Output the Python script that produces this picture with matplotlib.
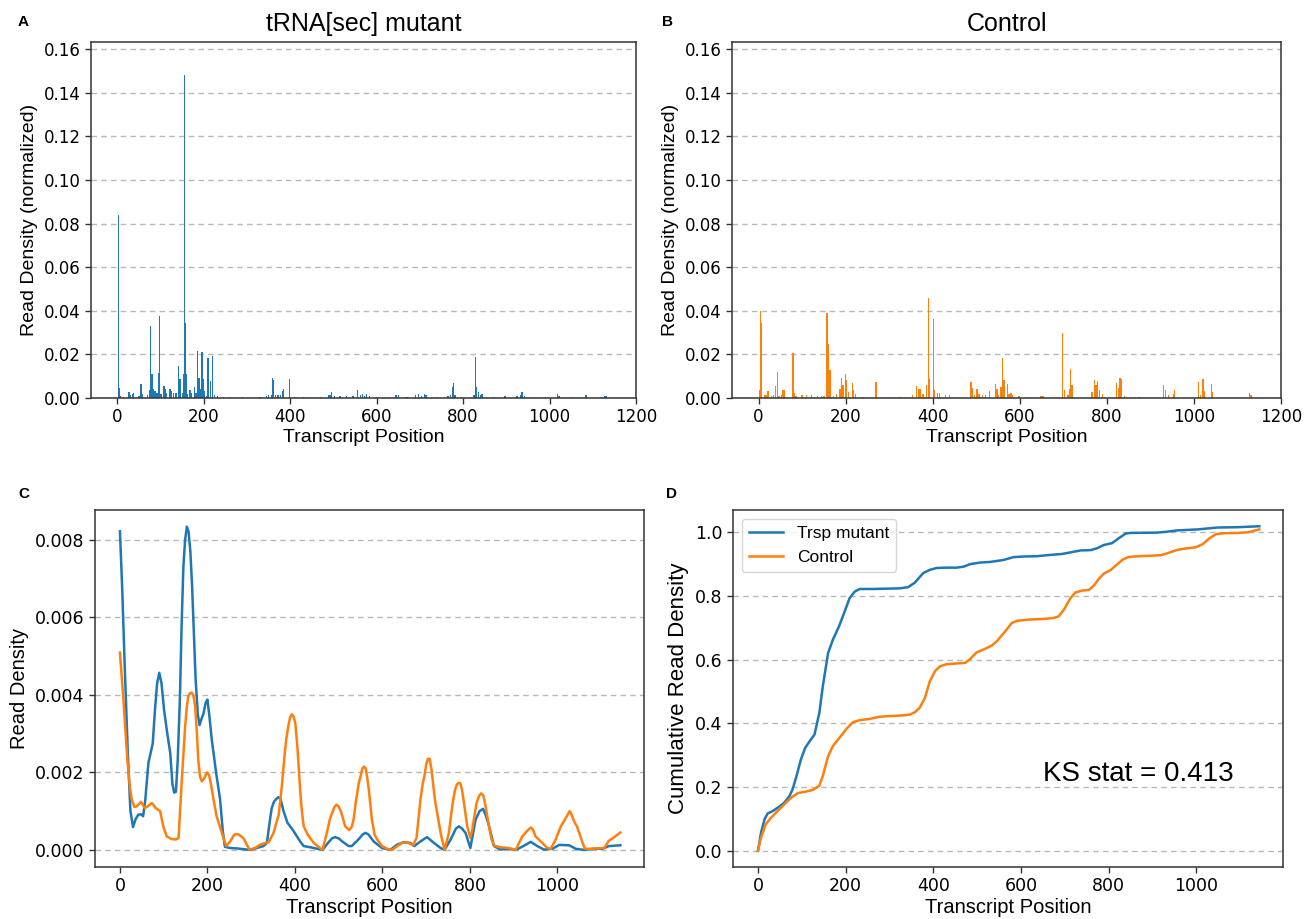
import matplotlib.pyplot as plt
from matplotlib.ticker import FormatStrFormatter

# Per-position read density (normalized) - tRNA[sec] mutant
mutant_pos = [2, 5, 8, 14, 27, 31, 35, 38, 50, 55, 58, 70, 74, 77, 80, 83, 87, 92, 95, 98,
              101, 108, 111, 114, 122, 126, 130, 136, 141, 145, 150, 153, 156, 158, 160, 163,
              168, 172, 178, 182, 186, 189, 192, 196, 198, 202, 206, 210, 215, 220, 224, 232,
              245, 260, 290, 330, 345, 350, 356, 359, 362, 366, 372, 378, 382, 385, 398, 410,
              430, 470, 488, 492, 496, 502, 515, 530, 545, 556, 562, 567, 572, 577, 583, 600,
              630, 645, 650, 670, 690, 697, 704, 711, 714, 740, 765, 770, 775, 778, 781, 825,
              828, 831, 835, 840, 844, 870, 897, 925, 932, 936, 942, 990, 1018, 1022, 1050,
              1084, 1120, 1128, 1131]
mutant_density = [0.084, 0.0048, 0.0008, 0.0006, 0.0028, 0.0015, 0.002, 0.0025, 0.001, 0.0063,
                  0.002, 0.0012, 0.0035, 0.0332, 0.0108, 0.004, 0.003, 0.0025, 0.0115, 0.0377,
                  0.002, 0.0057, 0.004, 0.0025, 0.004, 0.003, 0.0025, 0.0025, 0.0145, 0.0086,
                  0.0022, 0.011, 0.148, 0.0346, 0.011, 0.002, 0.0035, 0.0025, 0.005, 0.0025,
                  0.0217, 0.009, 0.004, 0.0209, 0.0089, 0.003, 0.001, 0.0182, 0.0077, 0.0192,
                  0.0012, 0.0008, 0.0006, 0.0005, 0.0005, 0.0005, 0.0008, 0.0012, 0.0015, 0.0092,
                  0.0082, 0.0015, 0.0012, 0.0015, 0.003, 0.0042, 0.0085, 0.0005, 0.0005, 0.0006,
                  0.0015, 0.0015, 0.0028, 0.001, 0.0008, 0.0008, 0.001, 0.0035, 0.0015, 0.002,
                  0.001, 0.002, 0.0008, 0.0006, 0.0006, 0.0015, 0.0012, 0.0006, 0.0012, 0.002,
                  0.001, 0.002, 0.0015, 0.0005, 0.0008, 0.0015, 0.005, 0.0071, 0.0015, 0.0012,
                  0.0186, 0.005, 0.0028, 0.0012, 0.002, 0.0005, 0.001, 0.0008, 0.0012, 0.0028,
                  0.0008, 0.0006, 0.002, 0.0008, 0.0005, 0.0012, 0.0006, 0.0008, 0.001]

# Per-position read density (normalized) - control
control_pos = [3, 5, 7, 15, 18, 22, 30, 35, 39, 43, 47, 52, 56, 60, 79, 82, 86, 100, 110, 121,
               135, 145, 150, 157, 159, 161, 164, 172, 179, 187, 191, 194, 200, 202, 206, 215,
               218, 222, 240, 270, 325, 335, 354, 363, 367, 371, 378, 385, 390, 392, 402, 404,
               411, 416, 430, 439, 488, 492, 496, 502, 506, 515, 522, 530, 544, 548, 551, 557,
               561, 564, 571, 575, 580, 584, 598, 649, 653, 698, 702, 711, 714, 717, 720, 766,
               771, 775, 779, 783, 790, 822, 826, 830, 834, 840, 862, 874, 930, 934, 942, 953,
               956, 1011, 1015, 1021, 1024, 1040, 1043, 1128, 1131]
control_density = [0.0038, 0.040, 0.0342, 0.0015, 0.0015, 0.0032, 0.0008, 0.0012, 0.0057, 0.0121,
                   0.001, 0.0015, 0.0038, 0.0035, 0.0205, 0.0023, 0.0008, 0.0012, 0.0012, 0.0012,
                   0.0008, 0.0008, 0.0008, 0.0391, 0.025, 0.0247, 0.0127, 0.0008, 0.002, 0.0043,
                   0.0092, 0.0058, 0.0112, 0.0081, 0.0028, 0.007, 0.0038, 0.002, 0.0005, 0.0074,
                   0.0005, 0.0005, 0.0012, 0.0055, 0.004, 0.004, 0.002, 0.0058, 0.0461, 0.0087,
                   0.0363, 0.0035, 0.0023, 0.0023, 0.0012, 0.0012, 0.0075, 0.0046, 0.0015, 0.0043,
                   0.002, 0.0012, 0.0012, 0.0032, 0.0063, 0.004, 0.0012, 0.005, 0.0185, 0.0084,
                   0.0066, 0.002, 0.0023, 0.0015, 0.001, 0.001, 0.0008, 0.0299, 0.0038, 0.0015,
                   0.0043, 0.0135, 0.0061, 0.0026, 0.0084, 0.0058, 0.0077, 0.0038, 0.0017, 0.0069,
                   0.0048, 0.009, 0.0089, 0.0008, 0.0005, 0.0005, 0.0061, 0.0035, 0.0012, 0.002,
                   0.0035, 0.0072, 0.0012, 0.0086, 0.0032, 0.0066, 0.0028, 0.0021, 0.0012]

# Smoothed read density - mutant
kde_mut_x = [0, 5, 11, 18, 24, 30, 36, 42, 48, 53, 58, 65, 75, 80, 85, 90, 95, 101, 107, 115,
             120, 124, 128, 132, 137, 141, 145, 149, 153, 157, 161, 165, 169, 173, 178, 182, 187,
             191, 196, 200, 205, 210, 220, 229, 235, 240, 252, 267, 298, 328, 336, 342, 347, 352,
             357, 362, 367, 374, 383, 395, 412, 420, 435, 463, 477, 485, 492, 500, 508, 523, 530,
             546, 555, 561, 568, 580, 599, 618, 634, 649, 664, 673, 687, 702, 718, 733, 742, 756,
             768, 775, 782, 790, 801, 813, 822, 830, 836, 843, 855, 870, 885, 905, 924, 939, 954,
             969, 989, 1004, 1027, 1042, 1061, 1084, 1103, 1118, 1144]
kde_mut_y = [0.00822, 0.0068, 0.00472, 0.0025, 0.001, 0.00059, 0.0008, 0.00091, 0.00092, 0.00087,
             0.0013, 0.00224, 0.00275, 0.0036, 0.0043, 0.00457, 0.0043, 0.0036, 0.0031, 0.0025,
             0.0017, 0.00148, 0.0015, 0.0023, 0.00387, 0.0058, 0.0073, 0.008, 0.00834, 0.0082,
             0.0077, 0.0068, 0.0056, 0.0044, 0.0035, 0.00322, 0.0034, 0.00352, 0.0038, 0.00388,
             0.0034, 0.00284, 0.00198, 0.0013, 0.0005, 0.00008, 0.00005, 0.00004, 0.0, 0.0001,
             0.00018, 0.0007, 0.00108, 0.00124, 0.00131, 0.00136, 0.00132, 0.001, 0.0007, 0.00052,
             0.00022, 0.0001, 0.00007, 0.0, 0.0002, 0.0003, 0.00033, 0.0003, 0.00022, 0.0001,
             0.0001, 0.00028, 0.0004, 0.00044, 0.0004, 0.00022, 0.00005, 0.0, 0.00014, 0.0002,
             0.00018, 0.0001, 0.00022, 0.00033, 0.00018, 0.00005, 0.0, 0.00027, 0.00055, 0.00061,
             0.00055, 0.00044, 0.00005, 0.00078, 0.001, 0.00106, 0.0009, 0.00065, 0.0001, 0.00001,
             0.00003, 0.0, 0.00011, 0.00021, 0.0001, 0.00001, 0.00003, 0.00013, 0.00012, 0.00003,
             0.0, 0.00003, 0.00003, 0.0001, 0.00012]

# Smoothed read density - control
kde_ctl_x = [0, 8, 17, 23, 27, 33, 38, 48, 57, 63, 73, 82, 92, 99, 107, 118, 128, 134, 141, 149,
             153, 156, 160, 164, 168, 172, 176, 179, 183, 187, 193, 197, 200, 204, 208, 214, 221,
             233, 243, 252, 261, 266, 271, 282, 296, 309, 321, 332, 340, 351, 363, 370, 376, 380,
             385, 389, 393, 397, 401, 406, 411, 415, 420, 429, 443, 463, 473, 480, 485, 490, 495,
             500, 505, 510, 515, 524, 530, 534, 540, 546, 550, 554, 558, 562, 566, 569, 576, 582,
             588, 599, 611, 622, 634, 645, 656, 670, 678, 687, 692, 696, 700, 704, 708, 712, 716,
             720, 724, 733, 742, 752, 757, 762, 766, 770, 774, 778, 782, 786, 794, 801, 805, 809,
             815, 821, 826, 831, 836, 843, 849, 855, 870, 889, 905, 913, 920, 930, 935, 940, 945,
             950, 962, 977, 985, 996, 1008, 1017, 1023, 1028, 1033, 1038, 1045, 1050, 1057, 1063,
             1076, 1107, 1118, 1130, 1144]
kde_ctl_y = [0.00509, 0.00387, 0.00232, 0.0016, 0.0013, 0.00111, 0.00112, 0.00124, 0.00108,
             0.00112, 0.00121, 0.00108, 0.001, 0.00061, 0.00035, 0.00028, 0.00027, 0.00031,
             0.00172, 0.00318, 0.0037, 0.00395, 0.00404, 0.00406, 0.00398, 0.0037, 0.003, 0.00232,
             0.0019, 0.00177, 0.00185, 0.00196, 0.002, 0.00192, 0.0017, 0.0013, 0.00087, 0.00044,
             0.0001, 0.00022, 0.00039, 0.00041, 0.0004, 0.00031, 0.00001, 0.00005, 0.00014,
             0.00018, 0.0002, 0.00044, 0.00091, 0.00164, 0.0024, 0.00284, 0.0032, 0.00342, 0.0035,
             0.00344, 0.00327, 0.0026, 0.00172, 0.0011, 0.00061, 0.0004, 0.00018, 0.0, 0.00044,
             0.0008, 0.00095, 0.0011, 0.00117, 0.00112, 0.001, 0.0008, 0.00061, 0.00051, 0.0006,
             0.00078, 0.0013, 0.00172, 0.0019, 0.0021, 0.00215, 0.0021, 0.0018, 0.00155, 0.00078,
             0.0004, 0.00027, 0.0001, 0.00003, 0.0, 0.0001, 0.00018, 0.0002, 0.00012, 0.00031,
             0.0013, 0.0017, 0.0019, 0.0022, 0.00235, 0.00235, 0.0021, 0.0017, 0.0013, 0.00104,
             0.00044, 0.0, 0.00044, 0.0009, 0.0013, 0.00155, 0.00168, 0.00173, 0.00172, 0.00155,
             0.00125, 0.00061, 0.00031, 0.0005, 0.00078, 0.0012, 0.0014, 0.00146, 0.0014, 0.00112,
             0.00065, 0.0003, 0.00011, 0.00007, 0.00005, 0.0, 0.0002, 0.00035, 0.00048, 0.00054,
             0.00058, 0.0005, 0.00035, 0.00022, 0.00005, 0.00003, 0.00027, 0.00061, 0.00078,
             0.0009, 0.001, 0.0009, 0.00074, 0.0006, 0.00044, 0.0002, 0.00003, 0.00003, 0.00005,
             0.00024, 0.00033, 0.00045]

# Cumulative read density
cum_mut_x = [0, 7, 15, 22, 34, 49, 60, 72, 79, 87, 98, 108, 118, 129, 140, 148, 160, 171, 185,
             198, 209, 221, 232, 263, 293, 324, 343, 358, 377, 392, 408, 431, 453, 469, 484, 507,
             530, 545, 560, 583, 606, 637, 667, 694, 721, 736, 759, 774, 789, 808, 823, 839, 850,
             911, 934, 957, 1003, 1049, 1095, 1144]
cum_mut_y = [0.0, 0.057, 0.099, 0.117, 0.125, 0.139, 0.151, 0.172, 0.193, 0.23, 0.287, 0.324,
             0.344, 0.365, 0.433, 0.517, 0.621, 0.663, 0.705, 0.752, 0.793, 0.814, 0.822, 0.822,
             0.823, 0.824, 0.828, 0.842, 0.872, 0.882, 0.888, 0.889, 0.889, 0.892, 0.9, 0.905,
             0.907, 0.91, 0.913, 0.922, 0.924, 0.925, 0.929, 0.932, 0.939, 0.943, 0.944, 0.95,
             0.96, 0.966, 0.981, 0.996, 0.998, 0.999, 1.002, 1.006, 1.009, 1.015, 1.016, 1.019]
cum_ctl_x = [0, 7, 18, 30, 45, 60, 76, 91, 110, 125, 140, 148, 160, 171, 186, 202, 217, 232, 255,
             278, 301, 331, 347, 358, 369, 381, 392, 404, 415, 431, 453, 473, 484, 499, 518, 534,
             545, 564, 579, 591, 621, 652, 675, 686, 698, 713, 724, 740, 755, 766, 778, 789, 805,
             816, 831, 844, 858, 889, 919, 934, 957, 980, 999, 1015, 1030, 1045, 1064, 1095,
             1118, 1129, 1144]
cum_ctl_y = [0.0, 0.042, 0.084, 0.104, 0.125, 0.146, 0.167, 0.181, 0.186, 0.191, 0.204, 0.235,
             0.297, 0.329, 0.355, 0.383, 0.404, 0.41, 0.414, 0.421, 0.423, 0.425, 0.428, 0.435,
             0.449, 0.48, 0.532, 0.564, 0.579, 0.586, 0.588, 0.59, 0.602, 0.623, 0.634, 0.645,
             0.658, 0.689, 0.715, 0.722, 0.726, 0.728, 0.731, 0.736, 0.757, 0.793, 0.811, 0.817,
             0.819, 0.832, 0.854, 0.87, 0.882, 0.895, 0.913, 0.922, 0.924, 0.926, 0.928, 0.934,
             0.945, 0.95, 0.953, 0.963, 0.981, 0.994, 0.997, 0.998, 1.0, 1.004, 1.009]

ks_stat = 0.413

BLUE = '#1f77b4'
ORANGE = '#ff7f0e'
LABEL_FONT = 'Liberation Sans'

fig = plt.figure(figsize=(13.11, 9.19), dpi=100)
W, H = 1311, 919


def px_axes(left, top, right, bottom):
    return fig.add_axes([left / W, 1 - bottom / H, (right - left) / W, (bottom - top) / H])


def style_axes(ax, tick_size):
    ax.grid(axis='y', linestyle=(0, (4, 3)), color='#b8b8b8', linewidth=1.0)
    ax.set_axisbelow(True)
    ax.tick_params(labelsize=tick_size, width=1.0, length=4, color='#333333')
    for sp in ax.spines.values():
        sp.set_color('#333333')
        sp.set_linewidth(1.1)


ax_a = px_axes(91, 42, 636, 398)
ax_b = px_axes(732, 42, 1281, 398)
ax_c = px_axes(95, 510, 644, 867)
ax_d = px_axes(733, 510, 1283, 867)

# A / B: per-position read densities
for ax, pos, dens, color, title in [(ax_a, mutant_pos, mutant_density, BLUE, 'tRNA[sec] mutant'),
                                     (ax_b, control_pos, control_density, ORANGE, 'Control')]:
    ax.bar(pos, dens, width=3.0, color=color, linewidth=0)
    ax.set_xlim(-61, 1200)
    ax.set_ylim(0, 0.1633)
    ax.set_xticks(range(0, 1201, 200))
    ax.set_yticks([i * 0.02 for i in range(9)])
    ax.yaxis.set_major_formatter(FormatStrFormatter('%.2f'))
    style_axes(ax, 12)
    ax.set_title(title, family=LABEL_FONT, fontsize=18, pad=8)
    ax.set_xlabel('Transcript Position', family=LABEL_FONT, fontsize=14, labelpad=2)
    ax.set_ylabel('Read Density (normalized)', family=LABEL_FONT, fontsize=14, labelpad=4)

# C: smoothed densities
ax_c.plot(kde_mut_x, kde_mut_y, color=BLUE, linewidth=1.8, solid_joinstyle='round')
ax_c.plot(kde_ctl_x, kde_ctl_y, color=ORANGE, linewidth=1.8, solid_joinstyle='round')
ax_c.set_xlim(-57, 1198)
ax_c.set_ylim(-0.00044, 0.00877)
ax_c.set_xticks(range(0, 1001, 200))
ax_c.set_yticks([0, 0.002, 0.004, 0.006, 0.008])
ax_c.yaxis.set_major_formatter(FormatStrFormatter('%.3f'))
style_axes(ax_c, 12.5)
ax_c.set_xlabel('Transcript Position', family=LABEL_FONT, fontsize=14.5, labelpad=2)
ax_c.set_ylabel('Read Density', family=LABEL_FONT, fontsize=14.5, labelpad=4)

# D: cumulative densities
ax_d.plot(cum_mut_x, cum_mut_y, color=BLUE, linewidth=1.8, label='Trsp mutant')
ax_d.plot(cum_ctl_x, cum_ctl_y, color=ORANGE, linewidth=1.8, label='Control')
ax_d.set_xlim(-57, 1198)
ax_d.set_ylim(-0.051, 1.07)
ax_d.set_xticks(range(0, 1001, 200))
ax_d.set_yticks([0, 0.2, 0.4, 0.6, 0.8, 1.0])
ax_d.yaxis.set_major_formatter(FormatStrFormatter('%.1f'))
style_axes(ax_d, 12.5)
ax_d.set_xlabel('Transcript Position', family=LABEL_FONT, fontsize=14.5, labelpad=2)
ax_d.set_ylabel('Cumulative Read Density', family=LABEL_FONT, fontsize=16, labelpad=4)
ax_d.legend(loc='upper left', prop={'family': LABEL_FONT, 'size': 12.5})
ax_d.text(650, 0.22, f'KS stat = {ks_stat}', family=LABEL_FONT, fontsize=20)

# panel letters
for letter, x, y in [('A', 18, 22), ('B', 662, 22), ('C', 18, 494), ('D', 666, 494)]:
    fig.text(x / W, 1 - y / H, letter, family=LABEL_FONT, fontsize=11, fontweight='bold',
             va='center')

fig.savefig('out.png', dpi=100)
